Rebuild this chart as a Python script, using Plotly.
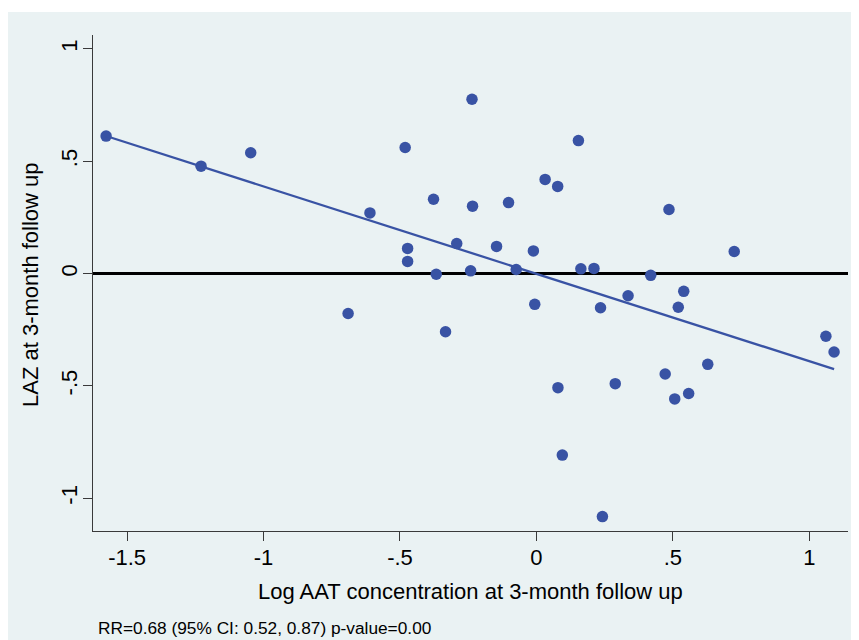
import plotly.graph_objects as go

# Scatter data: Log AAT concentration vs LAZ at 3-month follow up
log_aat = [-1.577, -1.229, -1.047, -0.610, -0.690, -0.481, -0.472, -0.472, -0.377, -0.367,
           -0.333, -0.292, -0.236, -0.234, -0.241, -0.146, -0.102, -0.074, -0.011, -0.006,
           0.032, 0.078, 0.079, 0.095, 0.154, 0.163, 0.211, 0.235, 0.289, 0.336,
           0.419, 0.486, 0.472, 0.507, 0.520, 0.540, 0.558, 0.628, 0.725, 0.242,
           1.061, 1.091]
laz = [0.612, 0.478, 0.538, 0.270, -0.178, 0.561, 0.112, 0.054, 0.331, -0.003,
       -0.259, 0.134, 0.776, 0.300, 0.012, 0.121, 0.316, 0.018, 0.101, -0.137,
       0.419, 0.388, -0.508, -0.808, 0.592, 0.021, 0.023, -0.152, -0.490, -0.099,
       -0.008, 0.285, -0.447, -0.558, -0.150, -0.079, -0.534, -0.404, 0.098, -1.082,
       -0.279, -0.349]

# Linear fit
fit_intercept = -0.001
fit_slope = -0.389

x_ticks = [-1.5, -1, -0.5, 0, 0.5, 1]
x_tick_labels = ["-1.5", "-1", "-.5", "0", ".5", "1"]
y_ticks = [-1, -0.5, 0, 0.5, 1]
y_tick_labels = ["-1", "-.5", "0", ".5", "1"]

x_title = "Log AAT concentration at 3-month follow up"
y_title = "LAZ at 3-month follow up"
note = "RR=0.68 (95% CI: 0.52, 0.87) p-value=0.00"

BG = "#EAF2F3"
MARK = "#3953A4"
FONT = "Liberation Sans, Arial, sans-serif"

fit_x = [min(log_aat), max(log_aat)]
fit_y = [fit_intercept + fit_slope * v for v in fit_x]

fig = go.Figure()
fig.add_trace(go.Scatter(x=log_aat, y=laz, mode="markers",
                         marker=dict(size=11.5, color=MARK, line=dict(width=0)),
                         showlegend=False))
fig.add_trace(go.Scatter(x=fit_x, y=fit_y, mode="lines",
                         line=dict(color=MARK, width=2.3), showlegend=False))

axis_common = dict(showgrid=False, showline=True, linecolor="#3a3a3a", linewidth=1.3,
                   ticks="outside", ticklen=9, tickwidth=1.3, tickcolor="#3a3a3a",
                   tickfont=dict(family=FONT, size=22, color="#000"), mirror=False)

PLOT_H = 632 - 27 - 109.3

fig.update_layout(
    width=851, height=632,
    margin=dict(l=85, r=10.7, t=27, b=109.3, autoexpand=False),
    paper_bgcolor=BG, plot_bgcolor=BG,
    font=dict(family=FONT, color="#000"),
    xaxis=dict(range=[-1.625, 1.142], tickvals=x_ticks, ticktext=x_tick_labels,
               zeroline=False, ticklabelstandoff=-3, **axis_common),
    yaxis=dict(range=[-1.146, 1.062], tickvals=y_ticks, ticktext=y_tick_labels,
               tickangle=-90, zeroline=True, zerolinecolor="#000", zerolinewidth=2.6,
               ticklabelstandoff=-3, **axis_common),
    shapes=[
        dict(type="rect", xref="paper", yref="paper", x0=-0.2, x1=1.1,
             y0=1.0 + 23 / PLOT_H, y1=1.2,
             fillcolor="white", line=dict(width=0), layer="above"),
    ],
    annotations=[
        dict(text=x_title, xref="paper", yref="paper", x=0.5, y=0, xanchor="center",
             yanchor="middle", yshift=-60, showarrow=False,
             font=dict(family=FONT, size=22, color="#000")),
        dict(text=y_title, xref="paper", yref="paper", x=0, y=0.5, xanchor="center",
             yanchor="middle", xshift=-63, yshift=-2, textangle=-90, showarrow=False,
             font=dict(family=FONT, size=22, color="#000")),
        dict(text=note, xref="paper", yref="paper", x=0, y=0, xanchor="left",
             yanchor="middle", xshift=3, yshift=-97, showarrow=False,
             font=dict(family=FONT, size=17.3, color="#000")),
    ],
)

fig.write_html("out.html")
